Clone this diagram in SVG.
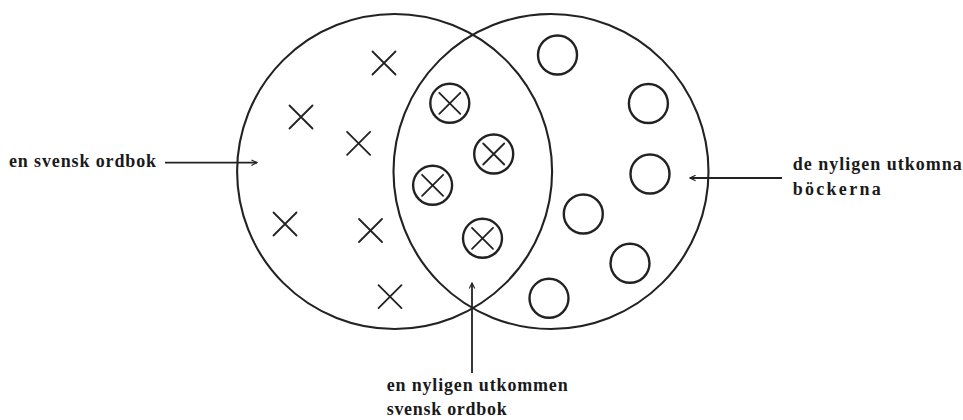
<svg xmlns="http://www.w3.org/2000/svg" width="963" height="420" viewBox="0 0 963 420">
<style>
.set{fill:none;stroke:#222;stroke-width:2.1}
.mk{fill:none;stroke:#222;stroke-width:1.8;stroke-linecap:round}
.ring{fill:none;stroke:#222;stroke-width:2.4}
.lbl{font-family:"Liberation Serif","DejaVu Serif",serif;font-weight:bold;font-size:18px;fill:#1a1a1a}
.con{fill:none;stroke:#222;stroke-width:1.8}
</style>
<defs>
<marker id="ah" viewBox="0 0 10 10" refX="9" refY="5" markerWidth="7" markerHeight="7" markerUnits="userSpaceOnUse" orient="auto">
<path d="M1,1 L9,5 L1,9" fill="none" stroke="#222" stroke-width="1.6"/>
</marker>
<g id="x"><path class="mk" d="M-11.5,-11.5 L11.5,11.5 M11.5,-11.5 L-11.5,11.5"/></g>
<g id="cx"><circle class="ring" r="19.5"/><path class="mk" d="M-10.5,-10.5 L10.5,10.5 M10.5,-10.5 L-10.5,10.5"/></g>
<g id="o"><circle class="ring" r="19.5"/></g>
</defs>
<g id="set-left"><circle class="set" cx="394.6" cy="171.5" r="157.5"/></g>
<g id="set-right"><circle class="set" cx="551" cy="171.5" r="157.5"/></g>
<g id="marks-x">
<use href="#x" x="384" y="63"/>
<use href="#x" x="301" y="117"/>
<use href="#x" x="358.6" y="143.3"/>
<use href="#x" x="285" y="224"/>
<use href="#x" x="370.5" y="230.5"/>
<use href="#x" x="390" y="296.7"/>
</g>
<g id="marks-both">
<use href="#cx" x="449.8" y="103.3"/>
<use href="#cx" x="493.7" y="154"/>
<use href="#cx" x="432.6" y="185.3"/>
<use href="#cx" x="482.5" y="238.3"/>
</g>
<g id="marks-o">
<use href="#o" x="557.5" y="55"/>
<use href="#o" x="648.4" y="103.5"/>
<use href="#o" x="650" y="174"/>
<use href="#o" x="583.3" y="214"/>
<use href="#o" x="630" y="263.3"/>
<use href="#o" x="549" y="298.3"/>
</g>
<g id="connectors">
<line class="con" x1="165" y1="162.7" x2="257" y2="162.7" marker-end="url(#ah)"/>
<line class="con" x1="782" y1="178" x2="690" y2="178" marker-end="url(#ah)"/>
<line class="con" x1="472" y1="373" x2="472" y2="283" marker-end="url(#ah)"/>
</g>
<g id="label-left"><text class="lbl" x="9" y="166.7" textLength="147" lengthAdjust="spacing">en svensk ordbok</text></g>
<g id="label-right">
<text class="lbl" x="792.7" y="170" textLength="169" lengthAdjust="spacing">de nyligen utkomna</text>
<text class="lbl" x="792.7" y="195" textLength="88" lengthAdjust="spacing">böckerna</text>
</g>
<g id="label-bottom">
<text class="lbl" x="386.7" y="391" textLength="181" lengthAdjust="spacing">en nyligen utkommen</text>
<text class="lbl" x="386.7" y="415" textLength="120" lengthAdjust="spacing">svensk ordbok</text>
</g>
</svg>
